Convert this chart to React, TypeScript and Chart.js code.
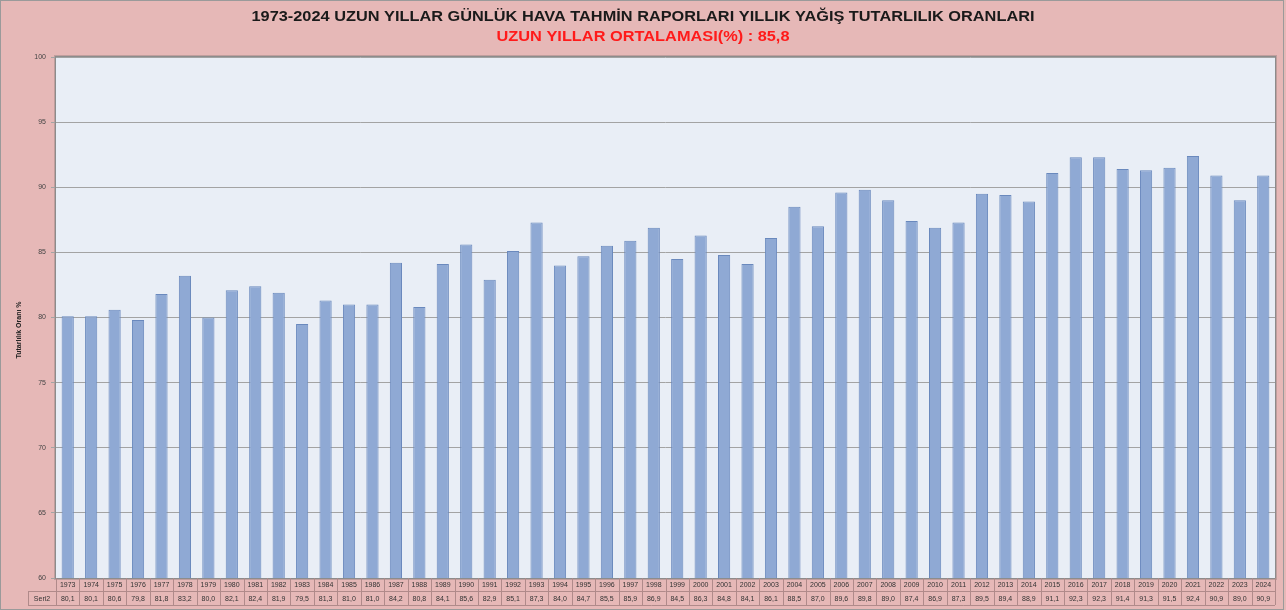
import React, { useEffect, useRef } from "react";
import { Chart, registerables } from "chart.js";

Chart.register(...registerables);

const TITLE = "1973-2024 UZUN YILLAR GÜNLÜK HAVA TAHMİN RAPORLARI YILLIK YAĞIŞ TUTARLILIK ORANLARI";
const SUBTITLE = "UZUN YILLAR ORTALAMASI(%) : 85,8";
const Y_TITLE = "Tutarlılık Oranı %";
const SERIES_NAME = "Seri2";

const years: string[] = [
  "1973", "1974", "1975", "1976", "1977", "1978", "1979", "1980", "1981", "1982",
  "1983", "1984", "1985", "1986", "1987", "1988", "1989", "1990", "1991", "1992",
  "1993", "1994", "1995", "1996", "1997", "1998", "1999", "2000", "2001", "2002",
  "2003", "2004", "2005", "2006", "2007", "2008", "2009", "2010", "2011", "2012",
  "2013", "2014", "2015", "2016", "2017", "2018", "2019", "2020", "2021", "2022",
  "2023", "2024",
];

const values: number[] = [
  80.1, 80.1, 80.6, 79.8, 81.8, 83.2, 80.0, 82.1, 82.4, 81.9,
  79.5, 81.3, 81.0, 81.0, 84.2, 80.8, 84.1, 85.6, 82.9, 85.1,
  87.3, 84.0, 84.7, 85.5, 85.9, 86.9, 84.5, 86.3, 84.8, 84.1,
  86.1, 88.5, 87.0, 89.6, 89.8, 89.0, 87.4, 86.9, 87.3, 89.5,
  89.4, 88.9, 91.1, 92.3, 92.3, 91.4, 91.3, 91.5, 92.4, 90.9,
  89.0, 90.9,
];

const Y_MIN = 60;
const Y_MAX = 100;
const Y_STEP = 5;

const FONT = "'Liberation Sans', Arial, sans-serif";

function fitText(ctx: CanvasRenderingContext2D, text: string, cx: number, cy: number, targetW: number) {
  const w = ctx.measureText(text).width;
  const s = targetW / w;
  ctx.save();
  ctx.translate(cx, cy);
  ctx.scale(s, 1);
  ctx.fillText(text, 0, 0);
  ctx.restore();
}

const decorPlugin = {
  id: "decor",
  beforeDraw(chart: any) {
    const { ctx, width, height, chartArea } = chart;
    ctx.save();
    ctx.fillStyle = "#e6b8b7";
    ctx.fillRect(0, 0, width, height);
    ctx.strokeStyle = "#9a9a9a";
    ctx.lineWidth = 1;
    ctx.strokeRect(0.5, 0.5, width - 3, height - 1);
    ctx.fillStyle = "rgba(120,110,110,0.35)";
    ctx.fillRect(chartArea.left - 2, chartArea.top - 2, chartArea.right - chartArea.left + 4, chartArea.bottom - chartArea.top + 4);
    ctx.fillStyle = "#e9eef6";
    ctx.fillRect(chartArea.left, chartArea.top, chartArea.right - chartArea.left, chartArea.bottom - chartArea.top);
    ctx.restore();
  },
  afterDraw(chart: any) {
    const { ctx, chartArea } = chart;
    const xs = chart.scales.x;
    ctx.save();
    ctx.textAlign = "center";
    ctx.textBaseline = "middle";
    ctx.fillStyle = "#1a1a1a";
    ctx.font = `bold 14px ${FONT}`;
    fitText(ctx, TITLE, 643, 17, 783);
    ctx.fillStyle = "#ff1a1a";
    ctx.font = `bold 14px ${FONT}`;
    fitText(ctx, SUBTITLE, 643, 37, 293);

    ctx.save();
    ctx.translate(19, 330);
    ctx.rotate(-Math.PI / 2);
    ctx.fillStyle = "#222";
    ctx.font = `bold 7px ${FONT}`;
    ctx.fillText(Y_TITLE, 0, 0);
    ctx.restore();

    ctx.strokeStyle = "#8c8c8c";
    ctx.lineWidth = 1;
    ctx.strokeRect(chartArea.left - 0.5, chartArea.top - 0.5, chartArea.right - chartArea.left + 1, chartArea.bottom - chartArea.top + 1);

    const n = years.length;
    const cw = (chartArea.right - chartArea.left) / n;
    const r1t = chartArea.bottom;
    const r1b = r1t + 13;
    const r2b = r1b + 14;
    const hdrL = 28;
    ctx.strokeStyle = "#b08a8a";
    ctx.lineWidth = 1;
    ctx.beginPath();
    ctx.moveTo(chartArea.left, r1b + 0.5);
    ctx.lineTo(chartArea.right, r1b + 0.5);
    ctx.moveTo(hdrL, r1b + 0.5);
    ctx.lineTo(chartArea.left, r1b + 0.5);
    ctx.moveTo(hdrL, r2b + 0.5);
    ctx.lineTo(chartArea.right, r2b + 0.5);
    ctx.moveTo(hdrL + 0.5, r1b);
    ctx.lineTo(hdrL + 0.5, r2b);
    for (let i = 0; i <= n; i++) {
      const x = Math.round(chartArea.left + i * cw) + 0.5;
      ctx.moveTo(x, r1t);
      ctx.lineTo(x, r2b);
    }
    ctx.moveTo(chartArea.right + 0.5, r1t);
    ctx.lineTo(chartArea.right + 0.5, r2b);
    ctx.stroke();

    ctx.fillStyle = "#333";
    ctx.font = `7px ${FONT}`;
    ctx.textAlign = "center";
    for (let i = 0; i < n; i++) {
      const cx = xs.getPixelForValue(i);
      ctx.fillText(years[i], cx, (r1t + r1b) / 2 + 1);
      ctx.fillText(values[i].toFixed(1).replace(".", ","), cx, (r1b + r2b) / 2 + 1);
    }
    ctx.fillText(SERIES_NAME, (hdrL + chartArea.left) / 2, (r1b + r2b) / 2 + 1);
    ctx.restore();
  },
};

export default function App() {
  const ref = useRef<HTMLCanvasElement | null>(null);
  useEffect(() => {
    if (!ref.current) return;
    const chart = new Chart(ref.current, {
      type: "bar",
      data: {
        labels: years,
        datasets: [
          {
            label: SERIES_NAME,
            data: values,
            backgroundColor: "#8fa9d4",
            borderColor: "#6a89bd",
            borderWidth: 1,
            categoryPercentage: 1,
            barPercentage: 0.52,
          },
        ],
      },
      options: {
        responsive: false,
        animation: false,
        layout: { padding: { left: 0, right: 11, top: 57, bottom: 32 } },
        plugins: {
          legend: { display: false },
          tooltip: { enabled: false },
          title: { display: false },
        },
        scales: {
          x: {
            display: false,
          },
          y: {
            min: Y_MIN,
            max: Y_MAX,
            afterFit: (axis: any) => {
              axis.width = 56;
            },
            border: { display: false },
            grid: {
              color: "#a3a3a3",
              lineWidth: 1,
              tickLength: 5,
            },
            ticks: {
              stepSize: Y_STEP,
              padding: 5,
              color: "#444",
              font: { size: 7, family: FONT },
            },
          },
        },
      },
      plugins: [decorPlugin],
    });
    return () => chart.destroy();
  }, []);
  return (
    <div style={{ position: "fixed", left: 0, top: 0, width: 1286, height: 610 }}>
      <canvas ref={ref} width={1286} height={610} style={{ width: 1286, height: 610 }} />
    </div>
  );
}
